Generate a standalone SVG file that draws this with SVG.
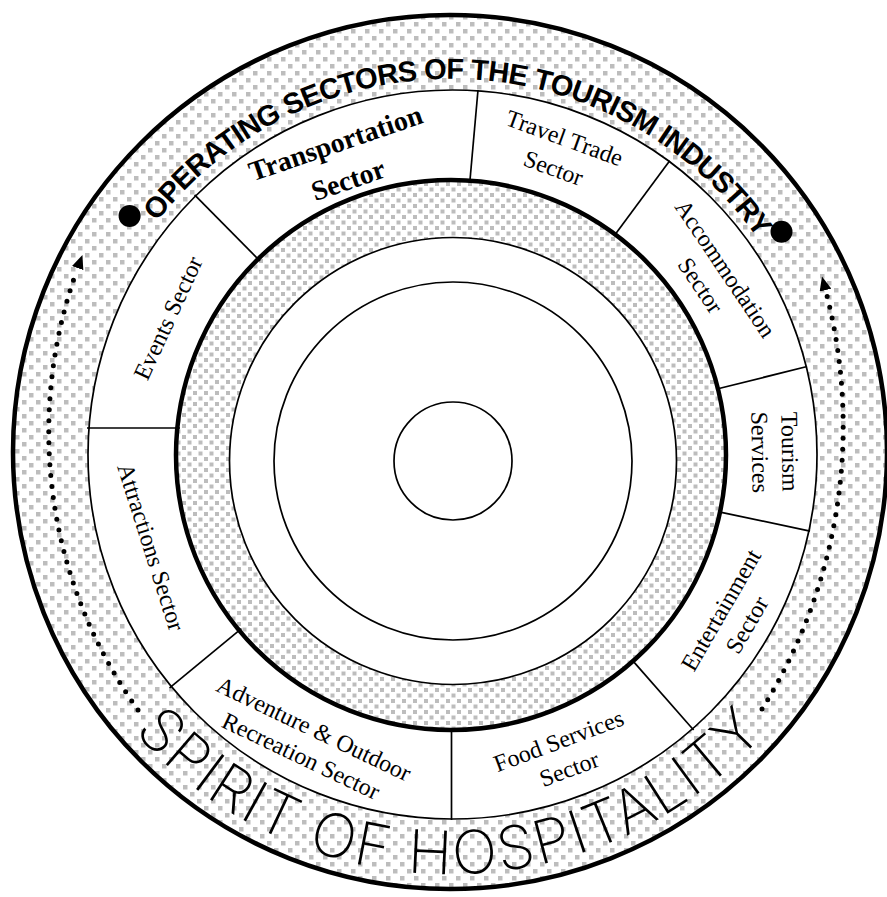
<svg xmlns="http://www.w3.org/2000/svg" width="887" height="897" viewBox="0 0 887 897">
<defs>
<pattern id="dotsOuter" width="14" height="14" patternUnits="userSpaceOnUse">
<rect width="14" height="14" fill="#fff"/>
<rect x="1" y="1" width="4.5" height="4.5" fill="#bdbdbd"/>
<rect x="8" y="8" width="4.5" height="4.5" fill="#bdbdbd"/>
</pattern>
<pattern id="dotsInner" width="11" height="11" patternUnits="userSpaceOnUse">
<rect width="11" height="11" fill="#fff"/>
<rect x="0.5" y="0.5" width="4" height="4" fill="#bdbdbd"/>
<rect x="6" y="6" width="4" height="4" fill="#bdbdbd"/>
</pattern>
<marker id="arrow" viewBox="0 0 14 12" refX="-2" refY="6" markerWidth="14" markerHeight="12" markerUnits="userSpaceOnUse" orient="auto">
<path d="M0,0 L14,6 L0,12 z" fill="#000"/>
</marker>
<path id="titleArc" d="M84.5,378.4 A374,374 0 0 1 820.9,397.7"/>
<path id="spiritArc" d="M84.5,663 A422,422 0 0 0 815.5,663"/>
</defs>
<style>
.thin{fill:none;stroke:#000;stroke-width:1.7}
.thick{stroke:#000;stroke-width:4.5}
.div{stroke:#000;stroke-width:1.7}
.lbl{font-family:"Liberation Serif","Times New Roman",serif;font-size:24px;fill:#000;text-anchor:middle}
.bold{font-weight:bold;font-size:28px}
.title{font-family:"Liberation Sans",Arial,sans-serif;font-weight:bold;font-size:29px;letter-spacing:-0.8px;fill:#000}
.spirit{font-family:Inter,"Open Sans",sans-serif;font-weight:200;font-size:60px;letter-spacing:2px;fill:#000}
.dotted{fill:none;stroke:#000;stroke-width:5;stroke-linecap:round;stroke-dasharray:0 11}
</style>

<g id="rings">
<circle cx="450" cy="452" r="437" fill="url(#dotsOuter)" class="thick"/>
<circle cx="452.5" cy="454.5" r="364.5" fill="#fff" stroke="#000" stroke-width="1.7"/>
<circle cx="451" cy="455" r="275" fill="url(#dotsInner)" class="thick"/>
<circle cx="453" cy="461" r="223.5" fill="#fff" stroke="#000" stroke-width="1.7"/>
<circle cx="453" cy="461" r="179" class="thin"/>
<circle id="core" cx="453" cy="461" r="59" class="thin"/>
</g>

<g id="connectors">
<line class="div" x1="478" y1="90" x2="470" y2="180"/>
<line class="div" x1="669.7" y1="160.8" x2="614.4" y2="235.5"/>
<line class="div" x1="807.1" y1="366.5" x2="716.9" y2="389"/>
<line class="div" x1="810" y1="531.1" x2="719" y2="511.8"/>
<line class="div" x1="693.6" y1="730" x2="632.2" y2="660.1"/>
<line class="div" x1="451.5" y1="820" x2="451.5" y2="729"/>
<line class="div" x1="169.6" y1="687.8" x2="241.4" y2="628.7"/>
<line class="div" x1="87" y1="428" x2="180" y2="428"/>
<line class="div" x1="194.6" y1="194.8" x2="260" y2="261"/>
<path class="dotted" d="M138,710 A478,478 0 0 1 77,270" marker-end="url(#arrow)"/>
<path class="dotted" d="M762,709 A533,533 0 0 0 826,292" marker-end="url(#arrow)"/>
</g>

<g id="title">
<circle cx="129.6" cy="215.9" r="11" fill="#000"/>
<circle cx="781.5" cy="231.8" r="11" fill="#000"/>
<text class="title" text-anchor="middle"><textPath href="#titleArc" startOffset="50%">OPERATING SECTORS OF THE TOURISM INDUSTRY</textPath></text>
</g>

<g id="sector-transportation" transform="translate(342,162) rotate(-19)">
<text class="lbl bold" y="-10.5">Transportation</text>
<text class="lbl bold" y="28.5">Sector</text>
</g>
<g id="sector-travel-trade" transform="translate(559,153) rotate(20)">
<text class="lbl" y="-8">Travel Trade</text>
<text class="lbl" y="24">Sector</text>
</g>
<g id="sector-accommodation" transform="translate(713,277) rotate(56)">
<text class="lbl" y="-7">Accommodation</text>
<text class="lbl" y="23">Sector</text>
</g>
<g id="sector-tourism-services" transform="translate(775,452) rotate(89)">
<text class="lbl" y="-7">Tourism</text>
<text class="lbl" y="23">Services</text>
</g>
<g id="sector-entertainment" transform="translate(734,617.5) rotate(-60)">
<text class="lbl" y="-7">Entertainment</text>
<text class="lbl" y="23">Sector</text>
</g>
<g id="sector-food-services" transform="translate(564,755) rotate(-20.5)">
<text class="lbl" y="-7">Food Services</text>
<text class="lbl" y="23">Sector</text>
</g>
<g id="sector-adventure" transform="translate(307.5,742.5) rotate(25.5)">
<text class="lbl" y="-7">Adventure &amp; Outdoor</text>
<text class="lbl" y="23">Recreation Sector</text>
</g>
<g id="sector-attractions" transform="translate(151,547) rotate(72.4)">
<text class="lbl" y="8">Attractions Sector</text>
</g>
<g id="sector-events" transform="translate(168,318) rotate(-65.2)">
<text class="lbl" y="8">Events Sector</text>
</g>

<g id="spirit">
<text class="spirit" text-anchor="middle"><textPath href="#spiritArc" startOffset="50%">SPIRIT OF HOSPITALITY</textPath></text>
</g>
</svg>
